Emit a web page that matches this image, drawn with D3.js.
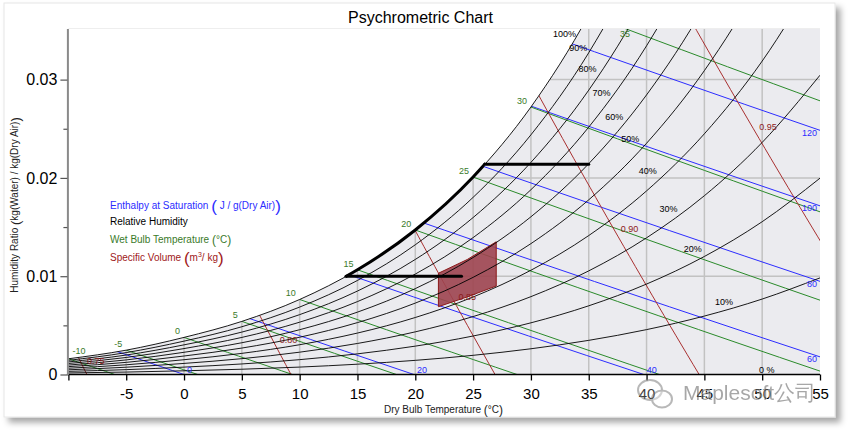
<!DOCTYPE html>
<html><head><meta charset="utf-8">
<script src="https://cdn.jsdelivr.net/npm/d3@7"></script>
<style>
body{margin:0;background:#fff}
svg{display:block}
text{font-family:"Liberation Sans",Arial,sans-serif}
</style>
</head><body>
<svg id="c" width="848" height="432"></svg>
<script>
// ---------------- data ----------------
const P = 101.325; // kPa, standard atmosphere
const tableT   = [-10, -5, 0, 5, 10, 15, 20, 25, 30, 35, 40, 45, 50, 55];
const tablePws = [0.2599, 0.4018, 0.6112, 0.8726, 1.2282, 1.7058, 2.3393, 3.1699, 4.2470, 5.6290, 7.3849, 9.5950, 12.352, 15.763];
const rhLevels = [0.1, 0.2, 0.3, 0.4, 0.5, 0.6, 0.7, 0.8, 0.9, 1.0];
const hLevels  = [0, 20, 40, 60, 80, 100, 120];
const wbLevels = [-10, -5, 0, 5, 10, 15, 20, 25, 30, 35];
const vLevels  = [0.75, 0.80, 0.85, 0.90, 0.95];
const xTickVals = [-10, -5, 0, 5, 10, 15, 20, 25, 30, 35, 40, 45, 50, 55];
const yTickVals = [0, 0.01, 0.02, 0.03];
const yMinorVals = [0.005, 0.015, 0.025];
// RH labels (text, dry bulb, humidity ratio)
const rhLabelText = ["0 %", "10%", "20%", "30%", "40%", "50%", "60%", "70%", "80%", "90%", "100%"];
const rhLabelT    = [50.4, 46.7, 44.0, 41.9, 40.1, 38.6, 37.2, 36.1, 34.9, 34.1, 32.9];
const rhLabelW    = [0.0005, 0.0074, 0.0128, 0.0169, 0.0207, 0.0240, 0.0262, 0.0287, 0.0311, 0.0332, 0.0347];
const vLabelW     = [0.0014, 0.0035, 0.0079, 0.0148, 0.0252];
// shaded zone
const zoneT     = [22, 24.5, 27];
const zoneWLow  = [0.0069, 0.0079, 0.0090];
const zoneWHigh = [0.0103, 0.0117, 0.0135];
// thick boundary
const boundLowW = 0.0100, boundLowT = [14, 24];
const boundHighW = 0.0214, boundHighT = [26, 35];

// ---------------- setup ----------------
const svg = d3.select("#c");
const x = d3.scaleLinear().domain([-10, 55]).range([68.4, 820]);
const y = d3.scaleLinear().domain([0, 0.0352]).range([374.5, 28.5]);
const hum = p => 0.622 * p / (P - p);
const yTop = y.domain()[1];

const defs = svg.append("defs");
const f = defs.append("filter").attr("id", "sh").attr("x", "-5%").attr("y", "-5%").attr("width", "115%").attr("height", "115%");
f.append("feDropShadow").attr("dx", 5).attr("dy", 5).attr("stdDeviation", 3).attr("flood-color", "#000").attr("flood-opacity", 0.35);

defs.append("clipPath").attr("id", "plotClip").append("rect")
  .attr("x", x(-10)).attr("y", y(yTop)).attr("width", x(55) - x(-10)).attr("height", y(0) - y(yTop));

const satPts = tableT.map((t, i) => [t, hum(tablePws[i])]);
const satArea = d3.area().x(d => x(d[0])).y0(y(0)).y1(d => y(d[1])).curve(d3.curveMonotoneX);
defs.append("clipPath").attr("id", "satClip").append("path").attr("d", satArea(satPts));
defs.append("clipPath").attr("id", "boundClip").append("rect")
  .attr("x", x(boundLowT[0])).attr("y", 0).attr("width", x(boundHighT[0]) - x(boundLowT[0])).attr("height", 432);

// panel
svg.append("rect").attr("x", 4).attr("y", 3).attr("width", 831).attr("height", 414)
  .attr("fill", "#fff").attr("stroke", "#e6e6e6").attr("filter", "url(#sh)");

// title
svg.append("text").attr("x", 420.5).attr("y", 23).attr("text-anchor", "middle")
  .attr("font-size", 16).attr("fill", "#000").text("Psychrometric Chart");

const plot = svg.append("g").attr("clip-path", "url(#plotClip)");
// background under saturation
plot.append("path").attr("d", satArea(satPts)).attr("fill", "#ebebef");
const inSat = plot.append("g").attr("clip-path", "url(#satClip)");
// grid
inSat.selectAll("line.vg").data(xTickVals.filter(d => d > -10 && d < 55)).join("line")
  .attr("x1", d => x(d)).attr("x2", d => x(d)).attr("y1", y(0)).attr("y2", y(yTop))
  .attr("stroke", "#c2c2c2").attr("stroke-width", 1.5);
inSat.selectAll("line.hg").data(yTickVals.filter(d => d > 0)).join("line")
  .attr("x1", x(-10)).attr("x2", x(55)).attr("y1", d => y(d)).attr("y2", d => y(d))
  .attr("stroke", "#c2c2c2").attr("stroke-width", 1.5);

// zone polygon
const zonePts = zoneT.map((t, i) => [t, zoneWLow[i]]).concat(zoneT.map((t, i) => [t, zoneWHigh[i]]).reverse());
plot.append("path").attr("d", d3.line().x(d => x(d[0])).y(d => y(d[1]))(zonePts) + "Z")
  .attr("fill", "rgb(157,68,79)").attr("fill-opacity", 0.9).attr("stroke", "#8b1a1a").attr("stroke-width", 1);

const lineGen = d3.line().x(d => x(d[0])).y(d => y(d[1]));

// RH curves
const rhLine = d3.line().x(d => x(d[0])).y(d => y(d[1])).curve(d3.curveMonotoneX);
plot.selectAll("path.rh").data(rhLevels).join("path")
  .attr("d", phi => rhLine(tableT.map((t, i) => [t, hum(phi * tablePws[i])])))
  .attr("fill", "none").attr("stroke", "#000").attr("stroke-width", 0.9);

// enthalpy lines
function hPts(h) {
  const tEnd = Math.min(55, h / 1.006);
  return d3.range(0, 11).map(i => { const t = -10 + (tEnd + 10) * i / 10; return [t, (h - 1.006 * t) / (2501 + 1.86 * t)]; });
}
inSat.selectAll("path.h").data(hLevels).join("path")
  .attr("d", h => lineGen(hPts(h))).attr("fill", "none").attr("stroke", "#2c2cff").attr("stroke-width", 1);

// wet bulb lines
function wbInfo(twb) {
  const ws = hum(tablePws[tableT.indexOf(twb)]);
  const a = (2501 - 2.326 * twb) * ws;
  return { ws, a };
}
function wbPts(twb) {
  const { a } = wbInfo(twb);
  const t0 = twb + a / 1.006, tEnd = Math.min(55, t0);
  return d3.range(0, 11).map(i => { const t = twb + (tEnd - twb) * i / 10;
    return [t, Math.max(0, (a - 1.006 * (t - twb)) / (2501 + 1.86 * t - 4.186 * twb))]; });
}
inSat.selectAll("path.wb").data(wbLevels).join("path")
  .attr("d", t => lineGen(wbPts(t))).attr("fill", "none").attr("stroke", "#2a8a2a").attr("stroke-width", 1);

// specific volume lines
const vT = (v, w) => v * P / (0.287042 * (1 + 1.607858 * w)) - 273.15;
inSat.selectAll("path.v").data(vLevels).join("path")
  .attr("d", v => lineGen(d3.range(0, 37).map(i => [vT(v, i * 0.001), i * 0.001])))
  .attr("fill", "none").attr("stroke", "#a83030").attr("stroke-width", 1);

// thick boundary
const bound = svg.append("g").attr("fill", "none").attr("stroke", "#000").attr("stroke-width", 3).attr("stroke-linecap", "round");
bound.append("path").attr("clip-path", "url(#boundClip)")
  .attr("d", rhLine(satPts));
bound.append("line").attr("x1", x(boundLowT[0])).attr("x2", x(boundLowT[1])).attr("y1", y(boundLowW)).attr("y2", y(boundLowW));
bound.append("line").attr("x1", x(boundHighT[0])).attr("x2", x(boundHighT[1])).attr("y1", y(boundHighW)).attr("y2", y(boundHighW));

// ---------------- labels ----------------
const lab = svg.append("g").attr("font-size", 9);
lab.selectAll("text.rh").data(rhLabelText).join("text")
  .attr("x", (d, i) => x(rhLabelT[i])).attr("y", (d, i) => y(rhLabelW[i])).attr("dy", "0.35em")
  .attr("text-anchor", "middle").attr("fill", "#000").text(d => d);

hLevels.forEach(h => {
  const t0 = h / 1.006;
  if (t0 <= 55) {
    lab.append("text").attr("x", x(t0) + 3).attr("y", y(0) - 1.5).attr("fill", "#2c2cff").text(h);
  } else {
    const w = (h - 1.006 * 55) / (2501 + 1.86 * 55);
    lab.append("text").attr("x", x(55) - 3).attr("y", y(w) + 5.5).attr("text-anchor", "end").attr("fill", "#2c2cff").text(h);
  }
});

wbLevels.forEach(twb => {
  const { ws, a } = wbInfo(twb);
  const t = lab.append("text").attr("fill", "#3a7a2a").text(twb);
  if (ws > yTop) {
    const tc = (a + 1.006 * twb - yTop * (2501 - 4.186 * twb)) / (1.006 + 1.86 * yTop);
    t.attr("x", x(tc)).attr("y", y(yTop) + 8.5).attr("text-anchor", "middle");
  } else if (twb === -10) {
    t.attr("x", x(twb) + 4).attr("y", y(ws) - 4.5);
  } else {
    t.attr("x", x(twb) - 4).attr("y", y(ws) - 3).attr("text-anchor", "end");
  }
});

vLevels.forEach((v, i) => {
  const w = vLabelW[i];
  lab.append("text").attr("x", x(vT(v, w)) + 7).attr("y", y(w)).attr("dy", "0.35em")
    .attr("fill", "#8b1a1a").text(v.toFixed(2));
});

// ---------------- axes ----------------
const xAxis = svg.append("g").attr("transform", `translate(0,${y(0)})`)
  .call(d3.axisBottom(x).tickValues(xTickVals).tickSize(6).tickSizeOuter(0).tickPadding(8)
    .tickFormat(d => d === -10 ? "" : String(d)));
xAxis.select(".domain").attr("stroke", "#000").attr("stroke-width", 1.6).attr("d", `M${x(-10) - 1.5},0H${x(55)}`);
xAxis.selectAll(".tick line").attr("stroke", "#000").attr("stroke-width", 1.3);
xAxis.selectAll("text").attr("font-size", 15).attr("fill", "#000").attr("font-family", '"Liberation Sans",Arial,sans-serif');

const yAxis = svg.append("g").attr("transform", `translate(${x(-10) - 1},0)`)
  .call(d3.axisLeft(y).tickValues(yTickVals).tickSize(7).tickSizeOuter(0).tickPadding(3)
    .tickFormat(d => d === 0 ? "0" : d.toFixed(2)));
yAxis.select(".domain").attr("stroke", "#8a8a8a").attr("stroke-width", 2);
yAxis.selectAll(".tick line").attr("stroke", "#555").attr("stroke-width", 1.2);
yAxis.selectAll("text").attr("font-size", 16).attr("fill", "#000").attr("font-family", '"Liberation Sans",Arial,sans-serif');
const yMinor = svg.append("g").attr("transform", `translate(${x(-10) - 1},0)`)
  .call(d3.axisLeft(y).tickValues(yMinorVals).tickSize(4).tickFormat(""));
yMinor.select(".domain").remove();
yMinor.selectAll(".tick line").attr("stroke", "#555").attr("stroke-width", 1.2);

// faint top border of plot
svg.append("line").attr("x1", x(-10)).attr("x2", x(55)).attr("y1", y(yTop)).attr("y2", y(yTop))
  .attr("stroke", "#eeeeee").attr("stroke-width", 1);

// axis titles
const xt = svg.append("text").attr("x", 443.5).attr("y", 413).attr("text-anchor", "middle")
  .attr("font-size", 10).attr("fill", "#222");
xt.append("tspan").text("Dry Bulb Temperature ");
xt.append("tspan").attr("font-size", 12).attr("dy", 1).text("(");
xt.append("tspan").attr("dy", -1).text("°C");
xt.append("tspan").attr("font-size", 12).attr("dy", 1).text(")");

const yt = svg.append("text").attr("transform", "translate(18,205) rotate(-90)").attr("text-anchor", "middle")
  .attr("font-size", 10).attr("fill", "#222");
yt.append("tspan").text("Humidity Ratio ");
yt.append("tspan").attr("font-size", 13).attr("dy", 1.5).text("(");
yt.append("tspan").attr("dy", -1.5).text("kg(Water) / kg(Dry Air)");
yt.append("tspan").attr("font-size", 13).attr("dy", 1.5).text(")");

// legend
const leg = svg.append("g").attr("font-size", 10);
const l1 = leg.append("text").attr("x", 110).attr("y", 209).attr("fill", "#2c2cff");
l1.append("tspan").text("Enthalpy at Saturation ");
l1.append("tspan").attr("font-size", 17).attr("dy", 3).text("(");
l1.append("tspan").attr("dy", -3).text(" J / g(Dry Air)");
l1.append("tspan").attr("font-size", 17).attr("dy", 3).text(")");
leg.append("text").attr("x", 110).attr("y", 224.5).attr("fill", "#000").text("Relative Humidity");
const l3 = leg.append("text").attr("x", 110).attr("y", 243).attr("fill", "#3a7a2a");
l3.append("tspan").text("Wet Bulb Temperature ");
l3.append("tspan").attr("font-size", 12).attr("dy", 1).text("(");
l3.append("tspan").attr("dy", -1).text("°C");
l3.append("tspan").attr("font-size", 12).attr("dy", 1).text(")");
const l4 = leg.append("text").attr("x", 110).attr("y", 261).attr("fill", "#a02020");
l4.append("tspan").text("Specific Volume ");
l4.append("tspan").attr("font-size", 17).attr("dy", 3).text("(");
l4.append("tspan").attr("dy", -3).text("m");
l4.append("tspan").attr("font-size", 7).attr("dy", -4).text("3");
l4.append("tspan").attr("dy", 4).text("/ kg");
l4.append("tspan").attr("font-size", 17).attr("dy", 3).text(")");

// watermark
const wm = svg.append("g").attr("opacity", 0.6);
wm.append("ellipse").attr("cx", 650).attr("cy", 390).attr("rx", 12).attr("ry", 10)
  .attr("fill", "rgba(255,255,255,0.4)").attr("stroke", "#8a8a8a").attr("stroke-width", 2);
wm.append("ellipse").attr("cx", 662).attr("cy", 399).attr("rx", 10).attr("ry", 8.5)
  .attr("fill", "rgba(255,255,255,0.4)").attr("stroke", "#8a8a8a").attr("stroke-width", 2);
wm.append("text").attr("x", 683).attr("y", 400).attr("font-size", 21)
  .attr("fill", "#6e6e6e").attr("stroke", "#ffffff").attr("stroke-width", 1.2).attr("paint-order", "stroke")
  .attr("font-family", '"Liberation Sans","Noto Sans CJK SC",sans-serif').text("Maplesoft公司");
</script>
</body></html>
